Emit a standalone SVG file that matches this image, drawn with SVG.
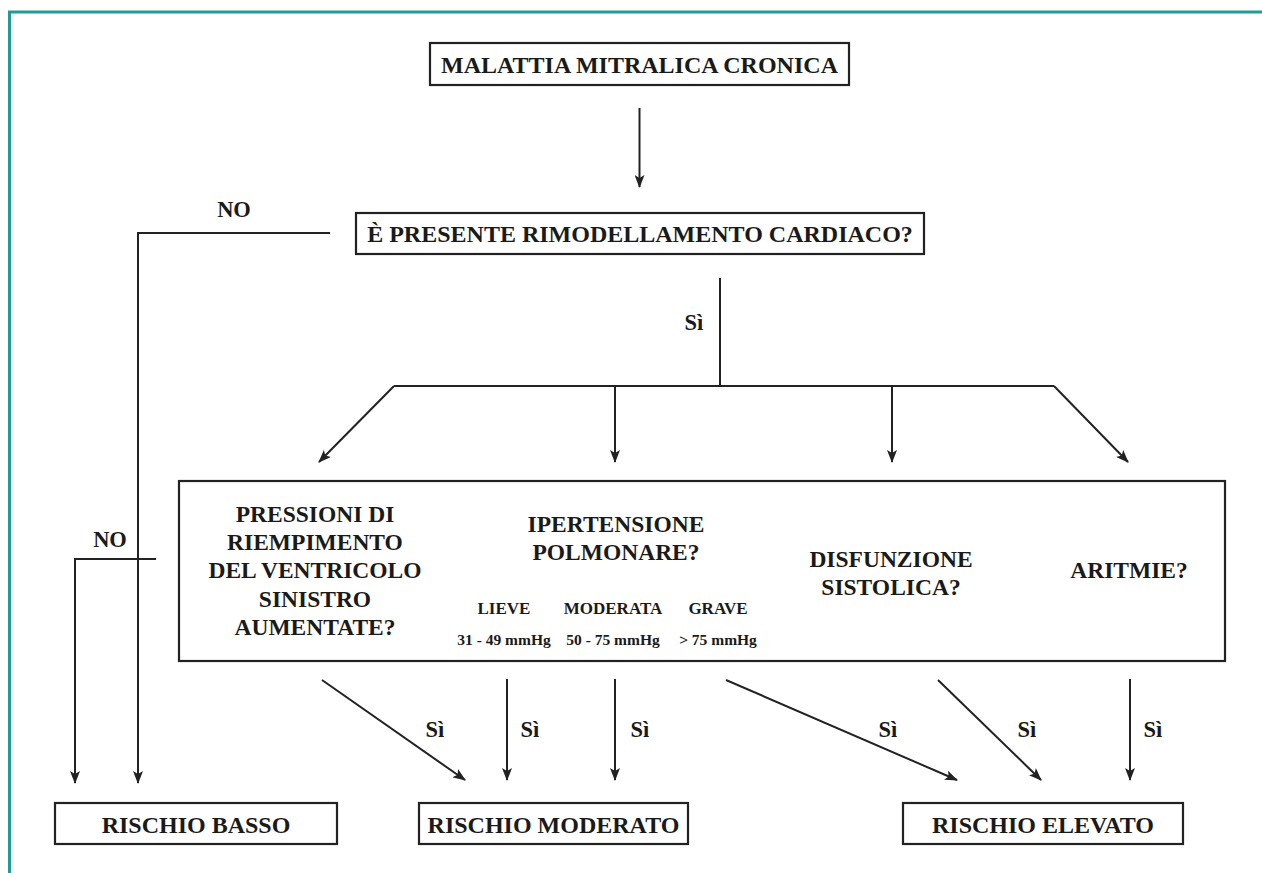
<svg xmlns="http://www.w3.org/2000/svg" width="1262" height="873" viewBox="0 0 1262 873">
<style>
.t{font-family:"Liberation Serif","Times New Roman",serif;font-weight:bold;fill:#1a1a1a;text-anchor:middle}
.b{font-size:24px}
.q{font-size:23.5px}
.s{font-size:17px}
.m{font-size:15.5px}
.l{font-size:22.5px}
.box{fill:#fff;stroke:#222;stroke-width:2.2}
.c{fill:none;stroke:#222;stroke-width:2}
.a{marker-end:url(#ah)}
</style>
<defs>
<marker id="ah" viewBox="0 0 13 10" refX="12" refY="5" markerWidth="13" markerHeight="10" markerUnits="userSpaceOnUse" orient="auto">
<path d="M0,0 L13,5 L0,10 L3,5 z" fill="#222"/>
</marker>
</defs>
<rect width="1262" height="873" fill="#fff"/>
<path d="M9.5,873 V12 H1262" fill="none" stroke="#1f9a94" stroke-width="3"/>

<g id="n-malattia">
<rect class="box" x="430" y="43" width="419" height="42"/>
<text class="t b" x="639.5" y="73">MALATTIA MITRALICA CRONICA</text>
</g>
<g id="n-rimodellamento">
<rect class="box" x="356" y="213" width="568" height="41"/>
<text class="t b" x="640" y="242">È PRESENTE RIMODELLAMENTO CARDIACO?</text>
</g>
<g id="n-criteri">
<rect class="box" x="179" y="481" width="1046" height="180" stroke-width="2.6"/>
<text class="t q" x="315" y="522">PRESSIONI DI</text>
<text class="t q" x="315" y="550">RIEMPIMENTO</text>
<text class="t q" x="315" y="578">DEL VENTRICOLO</text>
<text class="t q" x="315" y="607">SINISTRO</text>
<text class="t q" x="315" y="635">AUMENTATE?</text>
<text class="t q" x="616" y="532">IPERTENSIONE</text>
<text class="t q" x="616" y="560">POLMONARE?</text>
<text class="t s" x="504" y="614">LIEVE</text>
<text class="t s" x="613" y="614">MODERATA</text>
<text class="t s" x="718" y="614">GRAVE</text>
<text class="t m" x="504" y="645">31 - 49 mmHg</text>
<text class="t m" x="613" y="645">50 - 75 mmHg</text>
<text class="t m" x="718" y="645">&gt; 75 mmHg</text>
<text class="t q" x="891" y="567">DISFUNZIONE</text>
<text class="t q" x="891" y="595">SISTOLICA?</text>
<text class="t q" x="1129" y="578">ARITMIE?</text>
</g>
<g id="n-basso">
<rect class="box" x="55" y="803" width="282" height="41"/>
<text class="t b" x="196" y="833">RISCHIO BASSO</text>
</g>
<g id="n-moderato">
<rect class="box" x="419" y="803" width="269" height="41"/>
<text class="t b" x="553.5" y="833">RISCHIO MODERATO</text>
</g>
<g id="n-elevato">
<rect class="box" x="903" y="803" width="280" height="41"/>
<text class="t b" x="1043" y="833">RISCHIO ELEVATO</text>
</g>

<g id="connectors">
<path class="c a" d="M639.5,108 V187"/>
<path class="c a" d="M330,233 H138 V783"/>
<text class="t l" x="234" y="217">NO</text>
<path class="c" d="M720,278 V386"/>
<text class="t l" x="694" y="330">Sì</text>
<path class="c" d="M394,386 H1054"/>
<path class="c a" d="M394,386 L319,462"/>
<path class="c a" d="M615,386 V462"/>
<path class="c a" d="M892,386 V462"/>
<path class="c a" d="M1054,386 L1128,462"/>
<path class="c a" d="M156,559 H75 V783"/>
<text class="t l" x="110" y="547">NO</text>
<path class="c a" d="M322,680 L465,780"/>
<path class="c a" d="M507,679 V780"/>
<path class="c a" d="M615,679 V780"/>
<path class="c a" d="M726,680 L957,780"/>
<path class="c a" d="M938,680 L1041,780"/>
<path class="c a" d="M1130,679 V780"/>
<text class="t l" x="435" y="737">Sì</text>
<text class="t l" x="530" y="737">Sì</text>
<text class="t l" x="640" y="737">Sì</text>
<text class="t l" x="888" y="737">Sì</text>
<text class="t l" x="1027" y="737">Sì</text>
<text class="t l" x="1153" y="737">Sì</text>
</g>
</svg>
